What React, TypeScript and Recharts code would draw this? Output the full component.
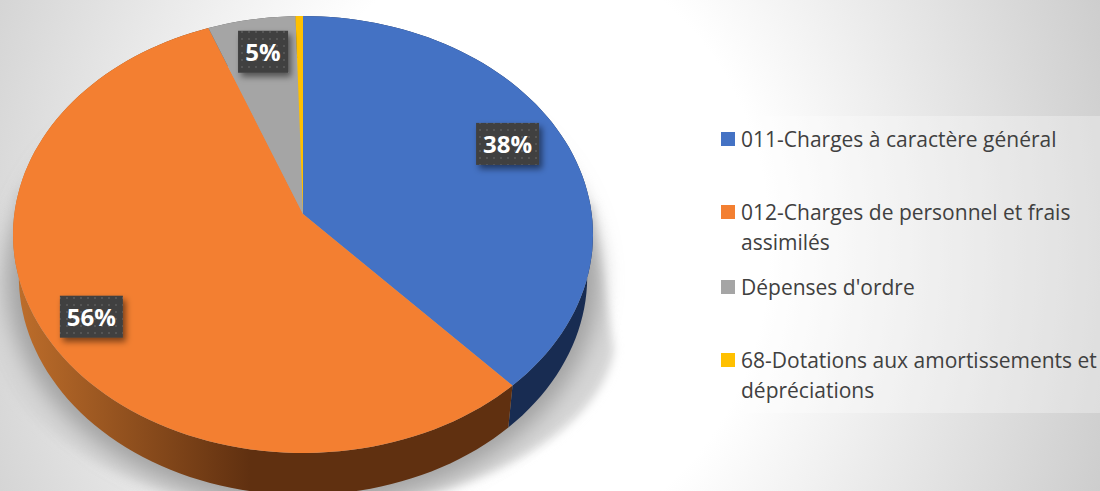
import React from 'react';
import { PieChart, Pie, Legend } from 'recharts';

const categories = ['011-Charges à caractère général', '012-Charges de personnel et frais assimilés', "Dépenses d'ordre", '68-Dotations aux amortissements et dépréciations'];
const values = [38.2, 56, 5.35, 0.45];
const colors = ['#4472C4', '#F37F31', '#A5A5A5', '#FFC000'];
const wallColors = ['#182C52', 'url(#orangeWall)', '#5a5a5a', '#7f6000'];
const labelOffsets = [[-5, -9], [-7, 8], [2, -4], [0, 0]];
const legendLines = [['011-Charges à caractère général'], ['012-Charges de personnel et frais', 'assimilés'], ["Dépenses d'ordre"], ['68-Dotations aux amortissements et', 'dépréciations']];
const data = categories.map((name, i) => ({ name, value: values[i], fill: colors[i], wall: wallColors[i] }));

const TILT = 0.75, PERSP = 0.0938, DEPTH = 42, SHRINK = 0.98;
const RAD = Math.PI / 180;
// project a point on the flat disc (polar: clockwise degrees from 12 o'clock, rho 0..1)
const project = (cx: number, cy: number, r: number, deg: number, rho = 1) => {
  const s = Math.sin(deg * RAD) * rho, c = Math.cos(deg * RAD) * rho;
  const w = 1 + PERSP * c;
  return [cx + (r * s) / w, cy - (TILT * r * c) / w];
};
const rim = (cx: number, cy: number, r: number, a0: number, a1: number, scale = 1, dy = 0) => {
  const n = Math.max(2, Math.ceil(Math.abs(a1 - a0) / 2));
  const out: string[] = [];
  for (let i = 0; i <= n; i++) {
    const [x, y] = project(cx, cy, r, a0 + ((a1 - a0) * i) / n);
    out.push(`${(cx + (x - cx) * scale).toFixed(1)} ${(y + dy).toFixed(1)}`);
  }
  return out;
};
const TopFace = (p: any) => {
  const a0 = 90 - p.startAngle, a1 = 90 - p.endAngle;
  const pts = rim(p.cx, p.cy, p.outerRadius, a0, a1);
  return <path d={`M${p.cx} ${p.cy}L${pts.join('L')}Z`} fill={p.fill} stroke="none" />;
};
const WallFace = (p: any) => {
  const a0 = 90 - p.startAngle, a1 = 90 - p.endAngle;
  const top = rim(p.cx, p.cy, p.outerRadius, a0, a1);
  const bottom = rim(p.cx, p.cy, p.outerRadius, a1, a0, SHRINK, DEPTH);
  return <path d={`M${top.join('L')}L${bottom.join('L')}Z`} fill={p.payload?.wall ?? p.wall} stroke="none" />;
};
const renderLabel = (p: any) => {
  if (p.index === 3) return null;
  const [x, y] = project(p.cx, p.cy, p.outerRadius, 90 - p.midAngle, 0.8);
  const [dx, dy] = labelOffsets[p.index];
  const w = p.index === 2 ? 50 : 63, h = 42;
  const X = x + dx, Y = y + dy;
  return (
    <g key={p.index}>
      <rect x={X - w / 2} y={Y - h / 2} width={w} height={h} fill="url(#dots)" filter="url(#lblShadow)" />
      <text x={X} y={Y + 9} textAnchor="middle" fontFamily="'Open Sans', sans-serif" fontWeight={700} fontSize={24} fill="#fff">
        {`${Math.round(p.value)}%`}
      </text>
    </g>
  );
};
const LegendBox = () => (
  <div style={{ width: 391, height: 297, background: 'rgba(255,255,255,0.3)', paddingTop: 8, boxSizing: 'border-box', fontFamily: "'Open Sans', sans-serif", fontSize: 21, color: '#404040' }}>
    {legendLines.map((lines, i) => (
      <div key={i} style={{ position: 'relative', paddingLeft: 32, lineHeight: '30px', height: lines.length > 1 ? 75 : 73 }}>
        <span style={{ position: 'absolute', left: 12, top: 8, width: 14, height: 14, background: colors[i] }} />
        {lines.map((t) => <div key={t} style={{ whiteSpace: 'nowrap' }}>{t}</div>)}
      </div>
    ))}
  </div>
);

export default function App() {
  return (
    <div style={{ position: 'absolute', left: 0, top: 0, width: 1100, height: 491, overflow: 'hidden', background: 'radial-gradient(ellipse 640px 760px at 520px 245px, #ffffff 39%, #cacaca 100%)' }}>
      <svg width={1100} height={491} style={{ position: 'absolute', left: 0, top: 0 }}>
        <defs>
          <filter id="blurA" x="-20%" y="-20%" width="140%" height="140%"><feGaussianBlur stdDeviation="5" /></filter>
          <filter id="blurB" x="-20%" y="-20%" width="140%" height="140%"><feGaussianBlur stdDeviation="11" /></filter>
          <filter id="lblShadow" x="-30%" y="-30%" width="170%" height="170%"><feDropShadow dx="3" dy="4" stdDeviation="3" floodColor="#000" floodOpacity="0.5" /></filter>
          <linearGradient id="orangeWall" gradientUnits="userSpaceOnUse" x1="15" y1="0" x2="250" y2="0">
            <stop offset="0" stopColor="#BE6E2B" />
            <stop offset="1" stopColor="#603010" />
          </linearGradient>
          <pattern id="dots" patternUnits="userSpaceOnUse" width="7" height="7">
            <rect width="7" height="7" fill="#404040" />
            <rect x="3" y="3" width="2" height="2" fill="#555555" />
          </pattern>
        </defs>
        <path d="M303 180L592 205L614 350C600 440 450 510 303 512C150 510 10 440 -10 340L14 190Z" fill="#d6d6d6" filter="url(#blurA)" />
        <ellipse cx={303} cy={280} rx={296} ry={226} fill="#a2a2a2" filter="url(#blurB)" />
      </svg>
      <div style={{ position: 'absolute', left: 0, top: 0 }}>
        <PieChart width={1100} height={491} margin={{ top: 0, right: 0, bottom: 0, left: 0 }}>
          <Pie data={data} dataKey="value" nameKey="name" cx={303} cy={214} innerRadius={0} outerRadius={288.7} startAngle={90} endAngle={-270} isAnimationActive={false} legendType="none" shape={WallFace} stroke="none" />
          <Pie data={data} dataKey="value" nameKey="name" cx={303} cy={214} innerRadius={0} outerRadius={288.7} startAngle={90} endAngle={-270} isAnimationActive={false} shape={TopFace} label={renderLabel} labelLine={false} stroke="none" />
          <Legend content={<LegendBox />} wrapperStyle={{ position: 'absolute', left: 709, top: 116, width: 391, height: 297, bottom: 'auto' }} />
        </PieChart>
      </div>
    </div>
  );
}
